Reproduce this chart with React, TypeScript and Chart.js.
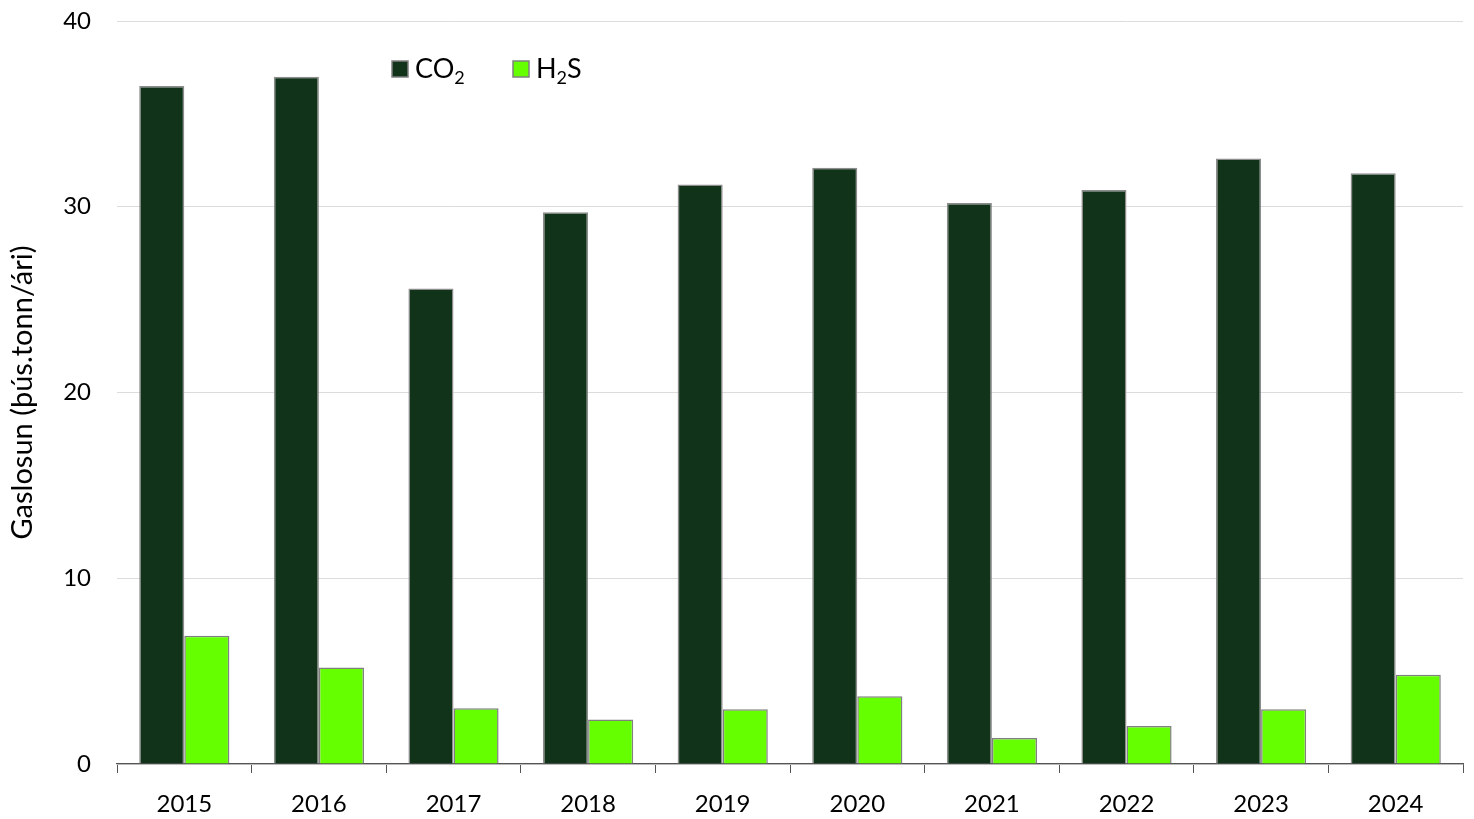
import React, { useEffect, useRef } from "react";
import { Chart, registerables } from "chart.js";

Chart.register(...registerables);

const years = ["2015", "2016", "2017", "2018", "2019", "2020", "2021", "2022", "2023", "2024"];
const co2Values = [36.5, 37.0, 25.6, 29.7, 31.2, 32.1, 30.2, 30.9, 32.6, 31.8];
const h2sValues = [6.9, 5.2, 3.0, 2.4, 2.95, 3.65, 1.4, 2.05, 2.95, 4.8];
const legendItems = [
  { base: "CO", sub: "2", tail: "", color: "#11331a" },
  { base: "H", sub: "2", tail: "S", color: "#66ff00" },
];
const yTitle = "Gaslosun (þús.tonn/ári)";
const FONT = "Lato, 'Open Sans', sans-serif";

const legendPlugin = {
  id: "subLegend",
  afterDraw(chart: any) {
    const ctx = chart.ctx;
    ctx.save();
    const xs = [392, 513];
    const y = 69;
    legendItems.forEach((it, i) => {
      const x = xs[i];
      ctx.fillStyle = it.color;
      ctx.fillRect(x, y - 8, 16, 16);
      ctx.strokeStyle = "#808080";
      ctx.lineWidth = 1.5;
      ctx.strokeRect(x, y - 8, 16, 16);
      ctx.fillStyle = "#000";
      ctx.textBaseline = "middle";
      ctx.textAlign = "left";
      ctx.font = `27px ${FONT}`;
      let tx = x + 23;
      ctx.fillText(it.base, tx, y);
      tx += ctx.measureText(it.base).width;
      ctx.font = `18px ${FONT}`;
      ctx.fillText(it.sub, tx, y + 9);
      tx += ctx.measureText(it.sub).width;
      ctx.font = `27px ${FONT}`;
      ctx.fillText(it.tail, tx, y);
    });
    ctx.restore();
  },
};

export default function App() {
  const ref = useRef<HTMLCanvasElement>(null);
  useEffect(() => {
    if (!ref.current) return;
    const chart = new Chart(ref.current, {
      type: "bar",
      data: {
        labels: years,
        datasets: [
          {
            label: "CO2",
            data: co2Values,
            backgroundColor: "#11331a",
            borderColor: "#8c8c8c",
            borderWidth: 1.5,
            barPercentage: 1,
            categoryPercentage: 0.67,
          },
          {
            label: "H2S",
            data: h2sValues,
            backgroundColor: "#66ff00",
            borderColor: "#808080",
            borderWidth: 1.5,
            barPercentage: 1,
            categoryPercentage: 0.67,
          },
        ],
      },
      options: {
        animation: false,
        responsive: false,
        layout: { padding: { top: 0, right: 11, left: 0, bottom: 0 } },
        plugins: { legend: { display: false }, tooltip: { enabled: false } },
        scales: {
          x: {
            grid: {
              display: true,
              drawOnChartArea: false,
              drawTicks: true,
              tickLength: 9,
              color: "#555",
              offset: true,
            },
            border: { display: true, color: "#555", width: 1.2 },
            ticks: { color: "#000", font: { family: FONT, size: 24 }, padding: 17 },
            afterFit(scale: any) {
              scale.height = 55;
            },
          },
          y: {
            min: 0,
            max: 40,
            ticks: {
              stepSize: 10,
              color: "#000",
              font: { family: FONT, size: 24 },
              padding: 26,
            },
            grid: { color: "#dcdcdc", drawTicks: false, lineWidth: 1 },
            border: { display: false },
            title: {
              display: true,
              text: yTitle,
              color: "#000",
              font: { family: FONT, size: 29 },
              padding: { top: 5, bottom: 0 },
            },
            afterFit(scale: any) {
              scale.width = 117;
              scale.paddingTop = 21;
              scale.paddingBottom = 0;
            },
          },
        },
      },
      plugins: [legendPlugin],
    });
    return () => chart.destroy();
  }, []);
  return (
    <div style={{ position: "absolute", left: 0, top: 0, width: 1474, height: 819, background: "#fff" }}>
      <canvas ref={ref} width={1474} height={819} style={{ display: "block" }} />
    </div>
  );
}
